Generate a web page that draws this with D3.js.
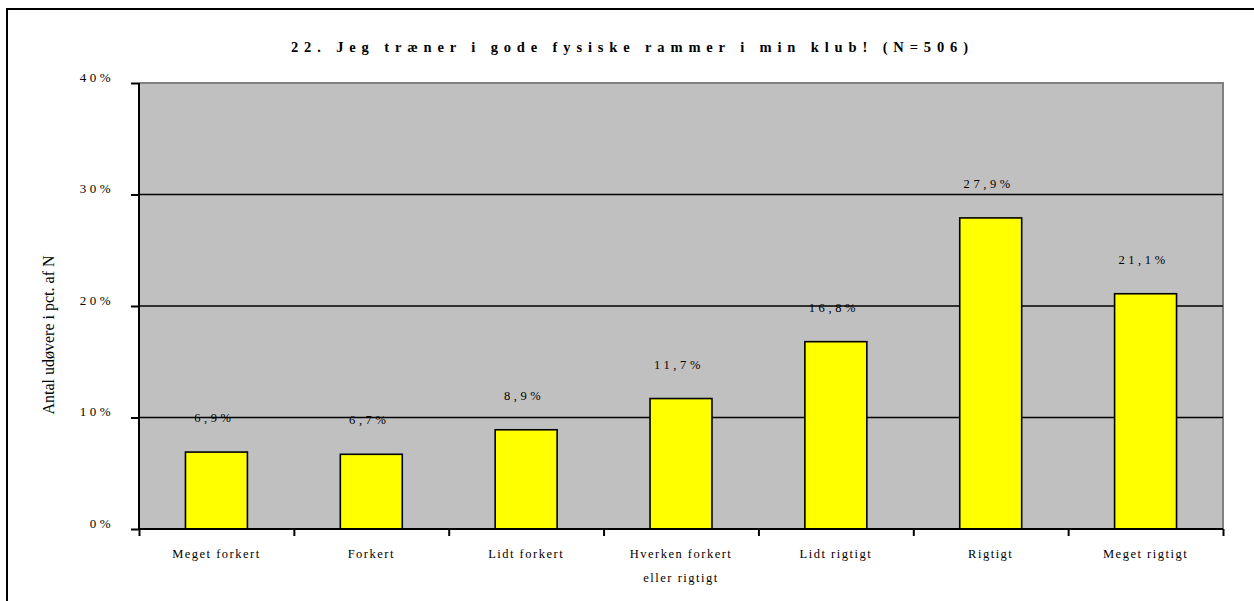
<!DOCTYPE html>
<html>
<head>
<meta charset="utf-8">
<script src="https://cdn.jsdelivr.net/npm/d3@7"></script>
<style>
  body { margin: 0; background: #fff; }
  svg { display: block; }
  text { font-family: "Liberation Serif", "Times New Roman", serif; fill: #000; }
</style>
</head>
<body>
<svg id="chart" width="1254" height="601"></svg>
<script>
const title = "22. Jeg træner i gode fysiske rammer i min klub! (N=506)";
const yAxisTitle = "Antal udøvere i pct. af N";
const categories = [
  ["Meget forkert"],
  ["Forkert"],
  ["Lidt forkert"],
  ["Hverken forkert", "eller rigtigt"],
  ["Lidt rigtigt"],
  ["Rigtigt"],
  ["Meget rigtigt"]
];
const values = [6.9, 6.7, 8.9, 11.7, 16.8, 27.9, 21.1];
const yTicks = [0, 10, 20, 30, 40];

const svg = d3.select("#chart");
const W = 1254, H = 601;
const m = { left: 139, right: 1223, top: 83, bottom: 529 };

// outer frame
svg.append("rect")
  .attr("x", 7).attr("y", 9)
  .attr("width", W + 10).attr("height", H + 10)
  .attr("fill", "none").attr("stroke", "#000").attr("stroke-width", 2);

const x = d3.scaleBand()
  .domain(d3.range(categories.length))
  .range([m.left, m.right])
  .paddingInner(0).paddingOuter(0);
const y = d3.scaleLinear().domain([0, 40]).range([m.bottom, m.top]);

// plot background
svg.append("rect")
  .attr("x", m.left).attr("y", m.top)
  .attr("width", m.right - m.left).attr("height", m.bottom - m.top)
  .attr("fill", "#c0c0c0");

// plot border top/right (gray)
svg.append("path")
  .attr("d", `M${m.left},${y(40)}H${m.right}V${m.bottom}`)
  .attr("fill", "none").attr("stroke", "#808080").attr("stroke-width", 2);

// gridlines
svg.append("g").selectAll("line")
  .data(yTicks.filter(t => t > 0 && t < 40))
  .join("line")
  .attr("x1", m.left).attr("x2", m.right)
  .attr("y1", d => y(d)).attr("y2", d => y(d))
  .attr("stroke", "#000").attr("stroke-width", 1.6);

// bars
const barW = x.bandwidth() * 0.4;
svg.append("g").selectAll("rect")
  .data(values)
  .join("rect")
  .attr("x", (d, i) => x(i) + (x.bandwidth() - barW) / 2)
  .attr("y", d => y(d))
  .attr("width", barW)
  .attr("height", d => y(0) - y(d))
  .attr("fill", "#ffff00")
  .attr("stroke", "#000").attr("stroke-width", 1.6);

// value labels
svg.append("g").selectAll("text")
  .data(values)
  .join("text")
  .attr("x", (d, i) => x(i) + x.bandwidth() / 2 - 2)
  .attr("y", d => y(d) - 30)
  .attr("text-anchor", "middle")
  .attr("font-size", 12.5)
  .attr("letter-spacing", 3.6)
  .text(d => d.toFixed(1).replace(".", ",") + "%");

// y axis
const yAxis = d3.axisLeft(y).tickValues(yTicks).tickSize(8).tickFormat(d => d + "%");
const gy = svg.append("g").attr("transform", `translate(${m.left},0)`).call(yAxis);
gy.select(".domain").attr("stroke", "#000").attr("stroke-width", 2).attr("d", `M0,${y(40)}V${y(0)}`);
gy.selectAll(".tick line").attr("stroke", "#000").attr("stroke-width", 2);
gy.selectAll(".tick text")
  .attr("x", -25).attr("dy", "-0.15em")
  .attr("font-size", 13)
  .attr("letter-spacing", 3.5)
  .attr("font-family", "Liberation Serif")
  .attr("fill", "#000");

// x axis
const xb = d3.scaleLinear().domain([0, categories.length]).range([m.left, m.right]);
const xAxis = d3.axisBottom(xb).tickValues(d3.range(categories.length + 1)).tickSize(7).tickFormat("");
const gx = svg.append("g").attr("transform", `translate(0,${m.bottom})`).call(xAxis);
gx.select(".domain").attr("stroke", "#000").attr("stroke-width", 2).attr("d", `M${m.left},0H${m.right}`);
gx.selectAll(".tick line").attr("stroke", "#000").attr("stroke-width", 2);

// x labels
const xl = svg.append("g").selectAll("text")
  .data(categories)
  .join("text")
  .attr("x", (d, i) => x(i) + x.bandwidth() / 2)
  .attr("y", 558)
  .attr("text-anchor", "middle")
  .attr("font-size", 12.5)
  .attr("letter-spacing", 1.5);
xl.selectAll("tspan")
  .data(d => d)
  .join("tspan")
  .attr("x", function() { return d3.select(this.parentNode).attr("x"); })
  .attr("dy", (d, i) => i === 0 ? 0 : 24)
  .text(d => d);

// y axis title
svg.append("text")
  .attr("transform", `translate(54,335) rotate(-90)`)
  .attr("text-anchor", "middle")
  .attr("font-size", 16)
  .text(yAxisTitle);

// title
svg.append("text")
  .attr("x", 291).attr("y", 52)
  .attr("font-size", 14.5)
  .attr("font-weight", "bold")
  .attr("textLength", 677)
  .attr("lengthAdjust", "spacing")
  .text(title);
</script>
</body>
</html>
